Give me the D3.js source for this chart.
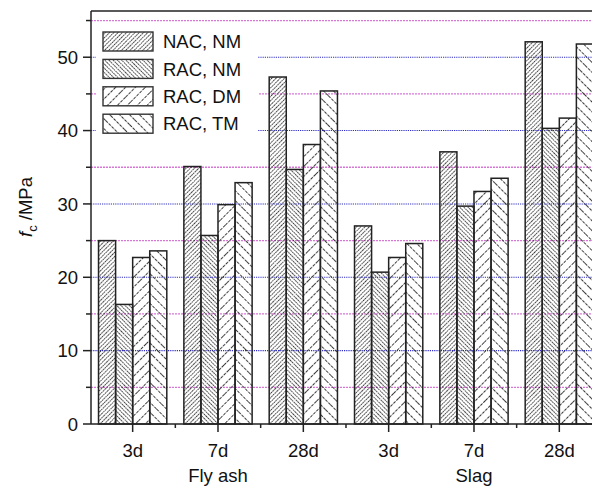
<!DOCTYPE html>
<html>
<head>
<meta charset="utf-8">
<script src="https://cdn.jsdelivr.net/npm/d3@7"></script>
<style>
  body { margin: 0; background: #fff; }
  svg { display: block; font-family: "Liberation Sans", Arial, sans-serif; }
</style>
</head>
<body>
<script>
// categories
const ages = ["3d", "7d", "28d", "3d", "7d", "28d"];
const groups = [{ name: "Fly ash", at: 1 }, { name: "Slag", at: 4 }];
const series = ["NAC, NM", "RAC, NM", "RAC, DM", "RAC, TM"];

// f_c values (MPa) per series, same order as ages
const nacNM = [25.0, 35.1, 47.3, 27.0, 37.1, 52.1];
const racNM = [16.3, 25.7, 34.7, 20.7, 29.7, 40.3];
const racDM = [22.7, 29.9, 38.1, 22.7, 31.7, 41.7];
const racTM = [23.6, 32.9, 45.4, 24.6, 33.5, 51.8];
const values = [nacNM, racNM, racDM, racTM];

const yMajor = [0, 10, 20, 30, 40, 50];
const yMinor = [5, 15, 25, 35, 45, 55];

const W = 592, H = 488;
const m = { left: 91, top: 11, bottom: 424 };
const fs = 18.5;

const svg = d3.select("body").append("svg")
  .attr("width", W).attr("height", H);

// hatch patterns: angle, spacing
const hatches = [
  { id: "h0", rot: 45, gap: 3, dash: "1.6,0.8" },
  { id: "h1", rot: -45, gap: 3, dash: "1.6,0.8" },
  { id: "h2", rot: 45, gap: 7, dash: "3,1.2" },
  { id: "h3", rot: -45, gap: 7, dash: "3,1.2" }
];
const defs = svg.append("defs");
hatches.forEach(h => {
  const p = defs.append("pattern")
    .attr("id", h.id)
    .attr("patternUnits", "userSpaceOnUse")
    .attr("width", h.gap).attr("height", 20)
    .attr("patternTransform", "rotate(" + h.rot + ")");
  p.append("line")
    .attr("x1", h.gap / 2).attr("x2", h.gap / 2)
    .attr("y1", 0).attr("y2", 20)
    .attr("stroke", "#222")
    .attr("stroke-width", 0.9)
    .attr("stroke-dasharray", h.dash);
});

const x = d3.scaleBand().domain(d3.range(ages.length))
  .range([m.left - 1, m.left - 1 + 85.33 * 6])
  .paddingInner(0.2).paddingOuter(0.1);
const xs = d3.scaleBand().domain(d3.range(series.length))
  .range([0, x.bandwidth()]);
const y = d3.scaleLinear().domain([0, 56.3]).range([m.bottom, m.top]);
const cx = i => x(i) + x.bandwidth() / 2;

// grid lines
const gridG = svg.append("g");
gridG.selectAll(".gmin").data(yMinor).enter().append("line")
  .attr("x1", m.left).attr("x2", W)
  .attr("y1", d => y(d)).attr("y2", d => y(d))
  .attr("stroke", "#d677d6").attr("stroke-width", 1.3)
  .attr("stroke-dasharray", "2,1");
gridG.selectAll(".gmaj").data(yMajor.filter(d => d > 0)).enter().append("line")
  .attr("x1", m.left).attr("x2", W)
  .attr("y1", d => y(d)).attr("y2", d => y(d))
  .attr("stroke", "#2e2ec4").attr("stroke-width", 1.1)
  .attr("stroke-dasharray", "1.2,1");

// bars
const barG = svg.append("g");
values.forEach((vals, s) => {
  barG.selectAll(".b" + s).data(vals).enter().append("rect")
    .attr("x", (d, i) => x(i) + xs(s))
    .attr("y", d => y(d))
    .attr("width", xs.bandwidth())
    .attr("height", d => y(0) - y(d))
    .attr("fill", "url(#" + hatches[s].id + ")")
    .attr("stroke", "#222").attr("stroke-width", 1.5);
});

// axes
const axG = svg.append("g").attr("stroke", "#222").attr("stroke-width", 1.5);
axG.append("line").attr("x1", m.left).attr("x2", m.left).attr("y1", m.top).attr("y2", m.bottom);
axG.append("line").attr("x1", m.left).attr("x2", W).attr("y1", m.top).attr("y2", m.top);
axG.append("line").attr("x1", m.left).attr("x2", W).attr("y1", m.bottom).attr("y2", m.bottom);

axG.selectAll(".ytM").data(yMajor).enter().append("line")
  .attr("x1", m.left - 8).attr("x2", m.left)
  .attr("y1", d => y(d)).attr("y2", d => y(d));
axG.selectAll(".ytm").data(yMinor).enter().append("line")
  .attr("x1", m.left - 5).attr("x2", m.left)
  .attr("y1", d => y(d)).attr("y2", d => y(d));
axG.selectAll(".xtM").data(d3.range(ages.length)).enter().append("line")
  .attr("x1", cx).attr("x2", cx)
  .attr("y1", m.bottom).attr("y2", m.bottom + 8);
axG.selectAll(".xtm").data(d3.range(ages.length - 1)).enter().append("line")
  .attr("x1", d => cx(d) + x.step() / 2).attr("x2", d => cx(d) + x.step() / 2)
  .attr("y1", m.bottom).attr("y2", m.bottom + 4);

// tick labels
svg.selectAll(".yl").data(yMajor).enter().append("text")
  .attr("x", m.left - 13).attr("y", d => y(d)).attr("dy", "0.36em")
  .attr("text-anchor", "end").attr("font-size", fs).attr("fill", "#111")
  .text(d => d);
svg.selectAll(".xl").data(ages).enter().append("text")
  .attr("x", (d, i) => cx(i)).attr("y", 450).attr("dy", "0.36em")
  .attr("text-anchor", "middle").attr("font-size", fs).attr("fill", "#111")
  .text(d => d);
svg.selectAll(".gl").data(groups).enter().append("text")
  .attr("x", d => cx(d.at)).attr("y", 475).attr("dy", "0.36em")
  .attr("text-anchor", "middle").attr("font-size", fs).attr("fill", "#111")
  .text(d => d.name);

// y title
const yt = svg.append("text")
  .attr("transform", "translate(32,207) rotate(-90)")
  .attr("text-anchor", "middle").attr("font-size", fs).attr("fill", "#111");
yt.append("tspan").attr("font-style", "italic").text("f");
yt.append("tspan").attr("font-size", 13).attr("dy", 5).text("c");
yt.append("tspan").attr("dy", -5).text(" /MPa");

// legend
const lg = svg.append("g");
lg.append("rect").attr("x", 96).attr("y", 24).attr("width", 162).attr("height", 116)
  .attr("fill", "#fff");
series.forEach((s, i) => {
  const yy = 32 + i * 27.4;
  lg.append("rect").attr("x", 103).attr("y", yy).attr("width", 50).attr("height", 19)
    .attr("fill", "url(#" + hatches[i].id + ")")
    .attr("stroke", "#333").attr("stroke-width", 1.4);
  lg.append("text").attr("x", 163).attr("y", yy + 9.5).attr("dy", "0.36em")
    .attr("font-size", fs).attr("fill", "#111").text(s);
});
</script>
</body>
</html>
